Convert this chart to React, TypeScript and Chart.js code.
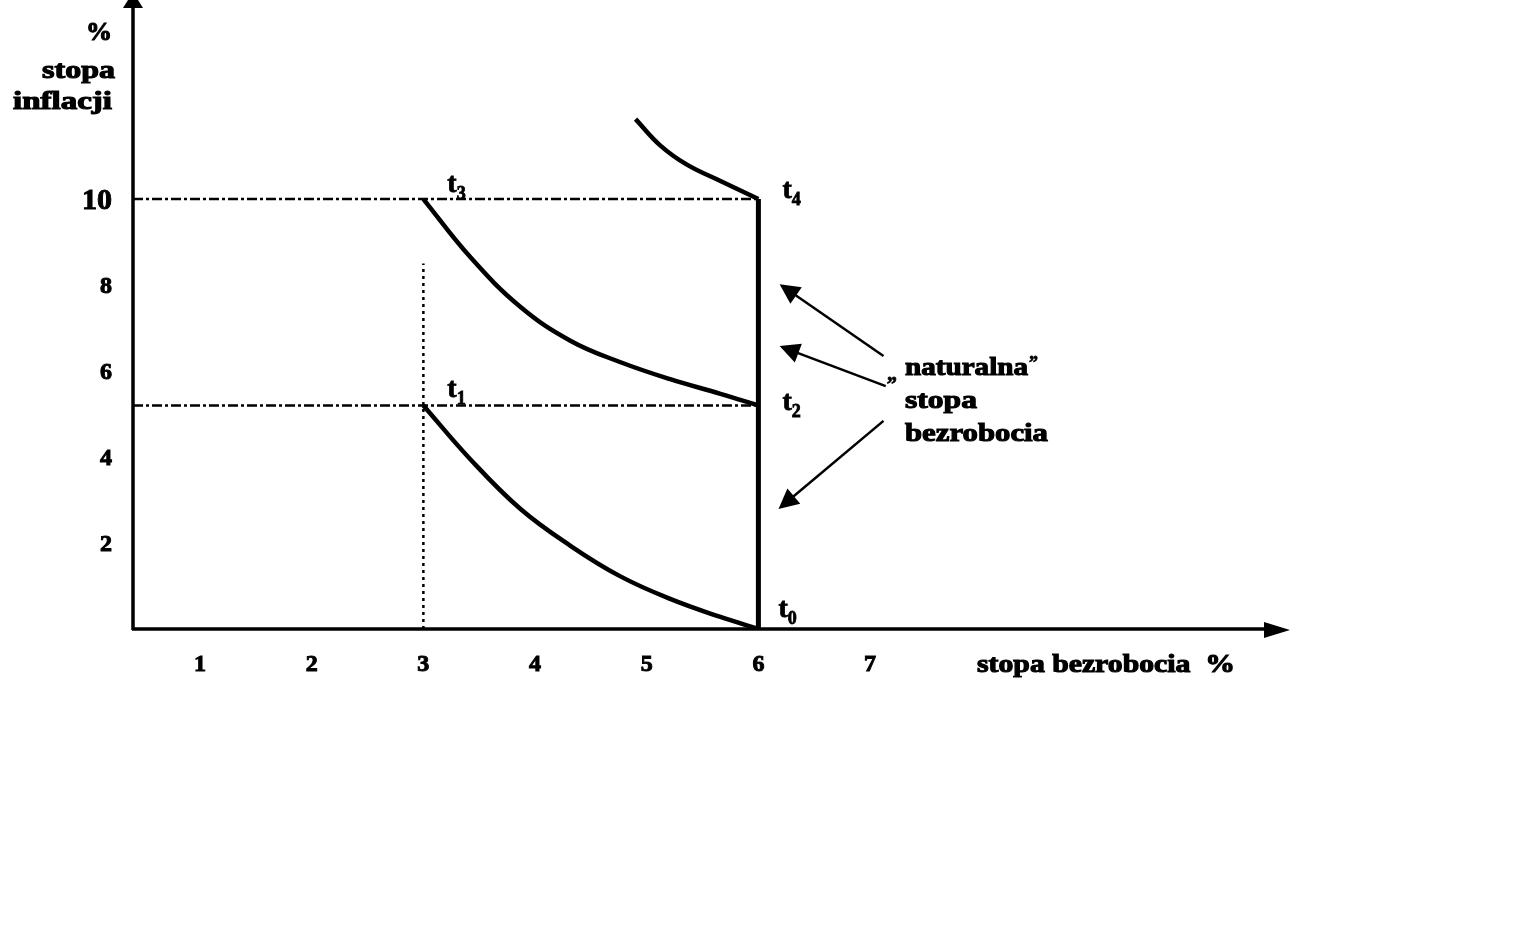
import { useEffect, useRef } from 'react';
import { Chart, registerables } from 'chart.js';

Chart.register(...registerables);

// ---- values ----
const xAxisMin = 0.4;
const xAxisMax = 10.76;
const yAxisMin = 0;
const yAxisMax = 14.63;

const xTickValues = [1, 2, 3, 4, 5, 6, 7];
const xTickLabels = ['1', '2', '3', '4', '5', '6', '7'];
const yTickValues = [2, 4, 6, 8, 10];
const yTickLabels = ['2', '4', '6', '8', '10'];

// short-run Phillips curve t1 -> t0
const curveAX = [3, 3.42, 3.87, 4.32, 4.76, 5.21, 5.66, 6];
const curveAY = [5.2, 3.95, 2.79, 1.93, 1.23, 0.7, 0.28, 0];
// short-run Phillips curve t3 -> t2
const curveBX = [3, 3.42, 3.87, 4.32, 4.76, 5.21, 5.66, 6];
const curveBY = [10, 8.65, 7.49, 6.7, 6.21, 5.81, 5.47, 5.2];
// curve ending at t4
const curveCX = [4.9, 5.12, 5.36, 5.66, 6];
const curveCY = [11.86, 11.25, 10.8, 10.42, 10];

const naturalRate = 6;
const naturalLineTop = 10;
const inflationLevels = [10, 5.2];
const lowUnemployment = 3;
const lowUnemploymentTop = 8.5;

const pointSubs = ['0', '1', '2', '3', '4'];
const pointX = [6, 3, 6, 3, 6];
const pointY = [0, 5.2, 5.2, 10, 10];

const arrowTailX = [7.12, 7.14, 7.12];
const arrowTailY = [6.35, 5.65, 4.84];
const arrowTipX = [6.19, 6.19, 6.18];
const arrowTipY = [8.02, 6.58, 2.79];

const yTitleLines = ['%', 'stopa', 'inflacji'];
const xTitle = 'stopa bezrobocia  %';
const noteLines = ['naturalna', 'stopa', 'bezrobocia'];

const SERIF = '"Liberation Serif", "DejaVu Serif", serif';

function pts(xs: number[], ys: number[]) {
  return xs.map((x, i) => ({ x, y: ys[i] }));
}

function heavyText(ctx: CanvasRenderingContext2D, text: string, x: number, y: number) {
  ctx.fillText(text, x, y);
  ctx.strokeText(text, x, y);
}

function fitText(ctx: CanvasRenderingContext2D, text: string, left: number, baseline: number, width: number, font: string) {
  ctx.save();
  ctx.font = font;
  const w = ctx.measureText(text).width;
  const s = width / w;
  ctx.translate(left, baseline);
  ctx.scale(s, 1);
  ctx.textAlign = 'left';
  ctx.textBaseline = 'alphabetic';
  ctx.lineWidth = 1.1;
  heavyText(ctx, text, 0, 0);
  ctx.restore();
}

function tri(ctx: CanvasRenderingContext2D, tipX: number, tipY: number, fromX: number, fromY: number, len: number, half: number) {
  const ang = Math.atan2(tipY - fromY, tipX - fromX);
  const bx = tipX - Math.cos(ang) * len;
  const by = tipY - Math.sin(ang) * len;
  const nx = -Math.sin(ang) * half;
  const ny = Math.cos(ang) * half;
  ctx.beginPath();
  ctx.moveTo(tipX, tipY);
  ctx.lineTo(bx + nx, by + ny);
  ctx.lineTo(bx - nx, by - ny);
  ctx.closePath();
  ctx.fill();
}

const decorPlugin = {
  id: 'decor',
  afterDraw(chart: any) {
    const ctx: CanvasRenderingContext2D = chart.ctx;
    const xs = chart.scales.x;
    const ys = chart.scales.y;
    const px = (v: number) => xs.getPixelForValue(v);
    const py = (v: number) => ys.getPixelForValue(v);
    ctx.save();
    ctx.fillStyle = '#000';
    ctx.strokeStyle = '#000';

    // axes
    const ox = px(xAxisMin);
    const oy = py(0);
    ctx.lineWidth = 3.5;
    ctx.beginPath();
    ctx.moveTo(ox, oy + 1);
    ctx.lineTo(ox, py(yAxisMax));
    ctx.moveTo(ox - 1, oy);
    ctx.lineTo(px(xAxisMax) - 10, oy);
    ctx.stroke();
    tri(ctx, ox, py(yAxisMax) - 8, ox, oy, 16, 10);
    tri(ctx, px(xAxisMax), oy + 1, ox, oy + 1, 26, 8);

    // tick labels
    ctx.lineWidth = 1;
    ctx.textBaseline = 'alphabetic';
    ctx.textAlign = 'center';
    ctx.font = `bold 24px ${SERIF}`;
    xTickValues.forEach((v, i) => {
      heavyText(ctx, xTickLabels[i], px(v), oy + 42);
    });
    ctx.textAlign = 'right';
    yTickValues.forEach((v, i) => {
      const lab = yTickLabels[i];
      ctx.font = lab.length > 1 ? `bold 30px ${SERIF}` : `bold 24px ${SERIF}`;
      heavyText(ctx, lab, ox - 21, py(v) + (lab.length > 1 ? 10 : 8));
    });

    // axis titles
    fitText(ctx, yTitleLines[0], ox - 47, 40, 26, `bold 26px ${SERIF}`);
    fitText(ctx, yTitleLines[1], ox - 91, 78, 73, `bold 25px ${SERIF}`);
    fitText(ctx, yTitleLines[2], ox - 120, 109, 99, `bold 25px ${SERIF}`);
    fitText(ctx, xTitle, 977, oy + 43, 258, `bold 25px ${SERIF}`);

    // point labels
    const offs = [
      [20, -12],
      [24, -8],
      [24, 5],
      [24, -7],
      [24, -1],
    ];
    ctx.lineWidth = 0.8;
    pointSubs.forEach((s, i) => {
      const x = px(pointX[i]) + offs[i][0];
      const y = py(pointY[i]) + offs[i][1];
      ctx.textAlign = 'left';
      ctx.font = `bold 28px ${SERIF}`;
      heavyText(ctx, 't', x, y);
      const w = ctx.measureText('t').width;
      ctx.font = `bold 18px ${SERIF}`;
      heavyText(ctx, s, x + w, y + 7);
    });

    // arrows
    ctx.lineWidth = 2.5;
    arrowTailX.forEach((tx, i) => {
      const x1 = px(tx), y1 = py(arrowTailY[i]);
      const x2 = px(arrowTipX[i]), y2 = py(arrowTipY[i]);
      const ang = Math.atan2(y2 - y1, x2 - x1);
      ctx.beginPath();
      ctx.moveTo(x1, y1);
      ctx.lineTo(x2 - Math.cos(ang) * 12, y2 - Math.sin(ang) * 12);
      ctx.stroke();
      tri(ctx, x2, y2, x1, y1, 20, 10);
    });

    // note text
    ctx.textAlign = 'left';
    ctx.lineWidth = 0.8;
    ctx.font = `bold 20px ${SERIF}`;
    heavyText(ctx, '\u201E', 887, 380);
    fitText(ctx, noteLines[0], 905, 375, 123, `bold 26px ${SERIF}`);
    ctx.font = `bold 18px ${SERIF}`;
    ctx.lineWidth = 0.8;
    heavyText(ctx, '\u201D', 1029, 369);
    fitText(ctx, noteLines[1], 905, 408, 72, `bold 26px ${SERIF}`);
    fitText(ctx, noteLines[2], 905, 441, 143, `bold 26px ${SERIF}`);

    ctx.restore();
  },
};

export default function App() {
  const ref = useRef<HTMLCanvasElement>(null);
  useEffect(() => {
    if (!ref.current) return;
    const black = '#000';
    const base = { borderColor: black, backgroundColor: black, pointRadius: 0, showLine: true, fill: false };
    const chart = new Chart(ref.current, {
      type: 'scatter',
      data: {
        datasets: [
          { ...base, data: pts(curveAX, curveAY), borderWidth: 4.5, tension: 0.4 },
          { ...base, data: pts(curveBX, curveBY), borderWidth: 4.5, tension: 0.4 },
          { ...base, data: pts(curveCX, curveCY), borderWidth: 4.5, tension: 0.4 },
          { ...base, data: [{ x: naturalRate, y: 0 }, { x: naturalRate, y: naturalLineTop }], borderWidth: 5 },
          ...inflationLevels.map((lv) => ({
            ...base,
            data: [{ x: xAxisMin, y: lv }, { x: naturalRate, y: lv }],
            borderWidth: 2.5,
            borderDash: [10, 3, 3, 3],
          })),
          {
            ...base,
            data: [{ x: lowUnemployment, y: 0 }, { x: lowUnemployment, y: lowUnemploymentTop }],
            borderWidth: 2.5,
            borderDash: [3, 4],
          },
        ] as any,
      },
      options: {
        responsive: false,
        maintainAspectRatio: false,
        devicePixelRatio: 1,
        animation: false,
        layout: { padding: { left: 133, right: 247, top: 0, bottom: 305 } },
        plugins: { legend: { display: false }, tooltip: { enabled: false } },
        scales: {
          x: { type: 'linear', min: xAxisMin, max: xAxisMax, display: false },
          y: { type: 'linear', min: yAxisMin, max: yAxisMax, display: false },
        },
      },
      plugins: [decorPlugin],
    });
    return () => chart.destroy();
  }, []);
  return (
    <div style={{ position: 'fixed', left: 0, top: 0, width: 1537, height: 934, background: '#fff' }}>
      <canvas ref={ref} width={1537} height={934} style={{ display: 'block' }} />
    </div>
  );
}
